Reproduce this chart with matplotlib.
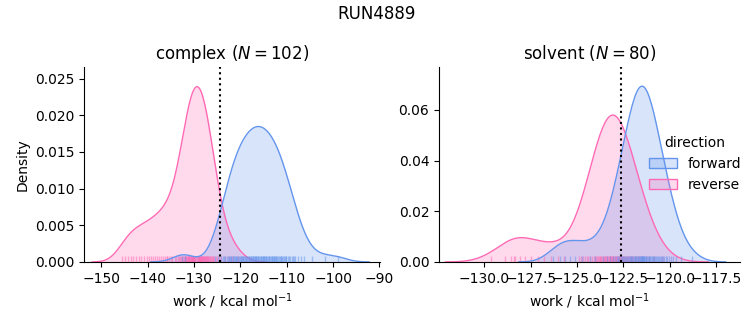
import numpy as np
import matplotlib
matplotlib.use("Agg")
import matplotlib.pyplot as plt
from matplotlib.patches import Patch

complex_forward = [
    -132.61, -131.87,
    -125.42, -124.83, -124.27,
    -123.84, -123.46, -123.21, -122.98, -122.71, -122.52, -122.29, -122.06,
    -121.93, -121.68, -121.52, -121.37, -121.18, -121.02, -120.83, -120.66, -120.49, -120.31, -120.12,
    -119.94, -119.78, -119.61, -119.47, -119.33, -119.16, -119.02, -118.88, -118.71, -118.57, -118.42, -118.24, -118.07,
    -117.91, -117.77, -117.63, -117.48, -117.36, -117.22, -117.08, -116.93, -116.79, -116.66, -116.52, -116.37, -116.23, -116.09,
    -115.94, -115.78, -115.63, -115.51, -115.37, -115.22, -115.08, -114.93, -114.81, -114.66, -114.53, -114.38, -114.24, -114.07,
    -113.92, -113.74, -113.58, -113.43, -113.27, -113.12, -112.98, -112.83, -112.67, -112.52, -112.36, -112.21, -112.04,
    -111.88, -111.69, -111.51, -111.33, -111.14, -110.97, -110.79, -110.62, -110.43, -110.24, -110.06,
    -109.81, -109.53, -109.22, -108.94, -108.68, -108.41, -108.13,
    -107.62, -106.97, -106.31,
    -104.58, -101.83, -98.92,
]
complex_reverse = [
    -145.52, -144.81, -144.12, -143.63, -143.04, -142.41, -141.88, -141.32, -140.79, -140.23, -139.71,
    -139.28, -138.83, -138.39, -137.92, -137.47, -137.03, -136.61, -136.18, -135.79, -135.41, -135.02,
    -135.87, -134.78, -134.18, -133.78, -133.45, -133.18, -132.93, -132.72, -132.54, -132.36, -132.19,
    -132.04, -131.89, -131.75, -131.62, -131.50, -131.37, -131.25, -131.14, -131.02, -130.92, -130.81,
    -130.71, -130.60, -130.50, -130.40, -130.30, -130.20, -130.11, -130.01, -129.92, -129.83, -129.73,
    -129.64, -131.31, -130.47, -128.93, -128.34, -127.62, -126.91,
    -129.45, -125.87, -124.18, -129.17, -129.08, -128.99, -128.89, -128.79, -128.70, -128.60, -128.50,
    -128.40, -128.29, -128.19, -128.08, -127.98, -127.86, -127.75, -127.63, -127.50, -127.38, -127.25,
    -127.11, -126.96, -126.81, -126.64, -126.46, -126.28, -126.07, -125.85, -125.61, -125.33, -125.02,
    -124.62, -123.41, -122.53, -121.72, -120.61,
]
solvent_forward = [
    -126.31, -125.92, -125.63, -125.38, -125.09, -124.71, -124.32,
    -124.04, -123.60, -123.36, -123.20, -123.08, -122.97, -122.87, -122.79, -122.72, -122.64, -122.57,
    -122.51, -122.45, -122.40, -122.35, -122.29, -122.25, -122.20, -122.15, -122.10, -122.07, -122.02,
    -121.98, -121.94, -121.90, -121.86, -121.82, -121.78, -121.74, -121.71, -121.67, -121.63, -121.59,
    -121.55, -121.52, -121.50, -121.49, -121.47,
    -121.48, -121.45, -121.41, -121.37, -121.33, -121.29, -121.26, -121.22, -121.19, -121.14, -121.10,
    -121.07, -121.02, -120.98, -120.93, -120.90, -120.85, -120.80, -120.75, -120.71, -120.65, -120.60,
    -120.55, -120.49, -120.43, -120.36, -120.29, -120.21, -120.13, -120.03, -119.93, -119.80, -119.64,
    -119.40, -118.82,
]
solvent_reverse = [
    -129.62, -128.91, -128.58, -128.33, -128.07, -127.81, -127.49, -127.12, -126.78, -126.41, -126.02, -125.71,
    -128.42, -123.14, -123.22, -124.91, -124.77, -124.66, -124.55, -124.46, -124.39, -124.31,
    -124.17, -124.11, -124.05, -124.00, -123.94, -123.89, -123.84, -123.79, -123.74, -123.70, -123.65,
    -123.61, -123.57, -123.52, -123.48, -123.44, -123.40, -123.36, -123.32, -123.28, -123.24, -123.20,
    -123.16, -123.12,
    -123.08, -123.04, -123.00, -122.96, -122.92, -122.88, -122.84, -122.80, -122.76, -122.72, -122.68,
    -122.62, -122.58, -122.54, -122.50, -122.45, -122.40, -122.35, -122.30, -122.25, -122.20, -122.15,
    -122.09, -122.03, -121.96, -121.89, -121.82, -121.74, -121.65, -121.55, -121.44, -121.29, -121.12,
    -120.87, -120.40,
]
free_energy = {"complex": -124.3, "solvent": -122.65}
n_cycles = {"complex": 102, "solvent": 80}
colors = {"forward": "cornflowerblue", "reverse": "hotpink"}

data = {
    "complex": {"forward": complex_forward, "reverse": complex_reverse},
    "solvent": {"forward": solvent_forward, "reverse": solvent_reverse},
}
# density is normalised over every sample in the run (both phases, both directions)
total = sum(len(v) for phase in data.values() for v in phase.values())


def kde_curve(samples, total):
	x = np.asarray(samples)
	bw = x.std(ddof=1) * len(x) ** (-1 / 5)
	grid = np.linspace(x.min() - 3 * bw, x.max() + 3 * bw, 200)
	dens = np.exp(-0.5 * ((grid[:, None] - x[None, :]) / bw) ** 2).sum(axis=1)
	dens /= bw * np.sqrt(2 * np.pi) * total
	return grid, dens


fig = plt.figure(figsize=(7.53, 3.25), dpi=100)
ax1 = fig.add_axes([0.1116, 0.194, 0.393, 0.600])
ax2 = fig.add_axes([0.583, 0.194, 0.400, 0.600])

for ax, phase in [(ax1, "complex"), (ax2, "solvent")]:
	for direction in ["reverse", "forward"]:
		samples = data[phase][direction]
		c = colors[direction]
		grid, dens = kde_curve(samples, total)
		ax.fill_between(grid, dens, color=c, alpha=0.25, lw=0)
		ax.plot(grid, dens, color=c, lw=1)
		ax.vlines(samples, 0, 0.03, transform=ax.get_xaxis_transform(), color=c, alpha=0.5, lw=1)
	ax.axvline(free_energy[phase], color="black", ls=":", lw=1.5)
	ax.set_title(phase + " ($N = %d$)" % n_cycles[phase], fontsize=12)
	ax.set_xlabel("work / kcal mol$^{-1}$")
	ax.spines["top"].set_visible(False)
	ax.spines["right"].set_visible(False)

ax1.set_xlim(-153.7, -89.9)
ax1.set_ylim(0, 0.0266)
ax1.set_xticks(np.arange(-150, -89, 10))
ax1.set_yticks(np.arange(0, 0.026, 0.005))
ax1.yaxis.set_major_formatter(matplotlib.ticker.FormatStrFormatter("%.3f"))
ax1.set_ylabel("Density")

ax2.set_xlim(-132.45, -116.2)
ax2.set_ylim(0, 0.0769)
ax2.set_xticks(np.arange(-130, -117, 2.5))
ax2.set_yticks([0, 0.02, 0.04, 0.06])
ax2.xaxis.set_major_formatter(matplotlib.ticker.FuncFormatter(lambda v, p: ("%.1f" % v).replace("-", "\u2212")))
ax2.yaxis.set_major_formatter(matplotlib.ticker.FormatStrFormatter("%.2f"))

handles = [Patch(facecolor=matplotlib.colors.to_rgba(colors[d], 0.25), edgecolor=colors[d]) for d in ["forward", "reverse"]]
ax2.legend(handles, ["forward", "reverse"], title="direction", frameon=False,
           loc="upper left", bbox_to_anchor=(0.655, 0.71), fontsize=10, title_fontsize=10)

fig.suptitle("RUN4889", fontsize=12, y=0.985)

plt.savefig("out.png", dpi=100)
